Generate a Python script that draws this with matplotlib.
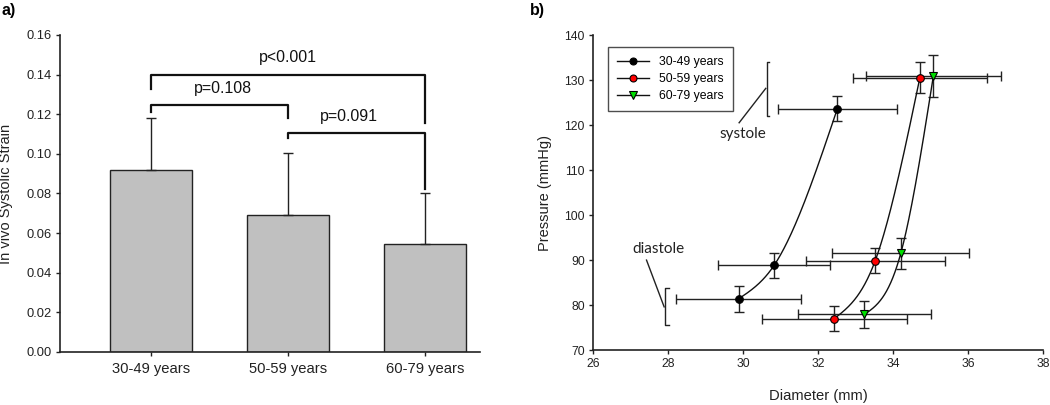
import numpy as np
import matplotlib
matplotlib.use("Agg")
import matplotlib.pyplot as plt
from matplotlib.lines import Line2D

plt.rcParams['font.family'] = ['Liberation Sans', 'DejaVu Sans']

# ---------------- data: panel a ----------------
groups = ["30-49 years", "50-59 years", "60-79 years"]
strain_mean = [0.0917, 0.0692, 0.0544]
strain_sd = [0.0263, 0.0311, 0.0260]

# comparisons: (left group, right group, label)
comparisons = [(0, 2, "p<0.001"), (0, 1, "p=0.108"), (1, 2, "p=0.091")]

# ---------------- data: panel b ----------------
series_labels = ["30-49 years", "50-59 years", "60-79 years"]
diam_30_49 = [29.88, 30.82, 32.51]
diam_sd_30_49 = [1.67, 1.50, 1.58]
pres_30_49 = [81.4, 88.8, 123.7]
pres_sd_30_49 = [2.9, 2.7, 2.7]

diam_50_59 = [32.43, 33.52, 34.71]
diam_sd_50_59 = [1.93, 1.85, 1.78]
pres_50_59 = [77.0, 89.9, 130.6]
pres_sd_50_59 = [2.8, 2.7, 3.4]

diam_60_79 = [33.23, 34.20, 35.07]
diam_sd_60_79 = [1.78, 1.83, 1.80]
pres_60_79 = [77.9, 91.5, 131.0]
pres_sd_60_79 = [3.0, 3.5, 4.7]

x_ticks_b = [26, 28, 30, 32, 34, 36, 38]
y_ticks_b = [70, 80, 90, 100, 110, 120, 130, 140]
y_ticks_a = [0.00, 0.02, 0.04, 0.06, 0.08, 0.10, 0.12, 0.14, 0.16]


def natural_spline(x, y, n=200):
    x = np.asarray(x, float)
    y = np.asarray(y, float)
    k = len(x)
    h = np.diff(x)
    A = np.zeros((k, k))
    r = np.zeros(k)
    A[0, 0] = 1
    A[-1, -1] = 1
    for i in range(1, k - 1):
        A[i, i - 1] = h[i - 1]
        A[i, i] = 2 * (h[i - 1] + h[i])
        A[i, i + 1] = h[i]
        r[i] = 6 * ((y[i + 1] - y[i]) / h[i] - (y[i] - y[i - 1]) / h[i - 1])
    M = np.linalg.solve(A, r)
    xs = np.linspace(x[0], x[-1], n)
    ys = np.empty_like(xs)
    for j, xv in enumerate(xs):
        i = min(np.searchsorted(x, xv, side='right') - 1, k - 2)
        i = max(i, 0)
        t1 = x[i + 1] - xv
        t0 = xv - x[i]
        ys[j] = (M[i] * t1 ** 3 / (6 * h[i]) + M[i + 1] * t0 ** 3 / (6 * h[i])
                 + (y[i] / h[i] - M[i] * h[i] / 6) * t1
                 + (y[i + 1] / h[i] - M[i + 1] * h[i] / 6) * t0)
    return xs, ys


fig = plt.figure(figsize=(10.5, 4.05), dpi=100)
ink = '#222222'

# ================= panel a =================
ax1 = fig.add_axes([0.0571, 0.1309, 0.4, 0.7827])
xpos = np.arange(len(groups))
ax1.bar(xpos, strain_mean, width=0.6, color='#c0c0c0', edgecolor=ink, linewidth=1.0, zorder=2)
ax1.errorbar(xpos, strain_mean, yerr=[np.zeros(3), strain_sd], fmt='none',
             ecolor=ink, elinewidth=1.0, capsize=3.5, capthick=1.0, zorder=3)
ax1.set_xlim(-0.664, 2.40)
ax1.set_ylim(0, 0.16)
ax1.set_yticks(y_ticks_a)
ax1.set_yticklabels([f"{v:.2f}" for v in y_ticks_a], fontsize=9.3)
ax1.set_xticks(xpos)
ax1.set_xticklabels(groups, fontsize=10.6)
ax1.tick_params(axis='y', direction='out', length=3, width=1, colors=ink, pad=3)
ax1.tick_params(axis='x', direction='out', length=3, width=1, colors=ink, pad=4)
for s in ['top', 'right']:
    ax1.spines[s].set_visible(False)
for s in ['left', 'bottom']:
    ax1.spines[s].set_color(ink)
    ax1.spines[s].set_linewidth(1.2)
ax1.set_ylabel("In vivo Systolic Strain", fontsize=10.5, color=ink)
ax1.yaxis.set_label_coords(-0.111, 0.5)

# significance brackets (bar height, left leg end, right leg end, text height, text x)
bracket_geom = {
    (0, 2): (0.1397, 0.1326, 0.1154, 0.1450, 1.0),
    (0, 1): (0.1245, 0.1210, 0.1180, 0.1290, 0.525),
    (1, 2): (0.1107, 0.1080, 0.0823, 0.1150, 1.445),
}
for l, r, lab in comparisons:
    hbar, ll, rl, ty, tx = bracket_geom[(l, r)]
    ax1.plot([xpos[l], xpos[l], xpos[r], xpos[r]], [ll, hbar, hbar, rl],
             color='#111111', lw=1.6, solid_joinstyle='round', zorder=4, clip_on=False)
    ax1.text(tx, ty, lab, ha='center', va='bottom', fontsize=11.4, color='#111111')

fig.text(0.001, 1 - 11 / 405, "a)", fontsize=11.5, fontweight='bold', va='center', ha='left')

# ================= panel b =================
ax2 = fig.add_axes([0.565, 0.1358, 0.4286, 0.777])
series = [
    (diam_30_49, diam_sd_30_49, pres_30_49, pres_sd_30_49, 'o', 'black'),
    (diam_50_59, diam_sd_50_59, pres_50_59, pres_sd_50_59, 'o', '#ff0000'),
    (diam_60_79, diam_sd_60_79, pres_60_79, pres_sd_60_79, 'v', '#00e000'),
]
handles = []
for (dx, dxs, py, pys, mk, col), lab in zip(series, series_labels):
    ax2.errorbar(dx, py, xerr=dxs, yerr=pys, fmt='none', ecolor=ink, elinewidth=1.0,
                 capsize=3.5, capthick=1.0, zorder=2)
    xs, ys = natural_spline(dx, py)
    ax2.plot(xs, ys, color='#111111', lw=1.0, zorder=3)
    ax2.plot(dx, py, linestyle='none', marker=mk, markersize=5.5 if mk == 'o' else 6,
             markerfacecolor=col, markeredgecolor='black', markeredgewidth=0.8, zorder=4)
    handles.append(Line2D([0], [0], color='#111111', lw=1.0, marker=mk,
                          markersize=5 if mk == 'o' else 5.5, markerfacecolor=col,
                          markeredgecolor='black', markeredgewidth=0.8, label=lab))

leg = ax2.legend(handles=handles, loc='upper left', bbox_to_anchor=(0.033, 0.963),
                 borderaxespad=0, fontsize=8.8, frameon=True, fancybox=False,
                 edgecolor=ink, handlelength=2.6, handletextpad=0.8,
                 borderpad=0.75, labelspacing=0.4)
leg.get_frame().set_linewidth(1.0)

ax2.set_xlim(26, 38)
ax2.set_ylim(70, 140)
ax2.set_xticks(x_ticks_b)
ax2.set_yticks(y_ticks_b)
ax2.tick_params(axis='both', direction='out', length=3, width=1, colors=ink, labelsize=8.7, pad=3)
for s in ['top', 'right']:
    ax2.spines[s].set_visible(False)
for s in ['left', 'bottom']:
    ax2.spines[s].set_color(ink)
    ax2.spines[s].set_linewidth(1.2)
ax2.set_xlabel("Diameter (mm)", fontsize=10.6, color=ink)
ax2.xaxis.set_label_coords(0.5, -0.124)
ax2.set_ylabel("Pressure (mmHg)", fontsize=10.5, color=ink)
ax2.yaxis.set_label_coords(-0.092, 0.5)

# annotations: systole / diastole brackets
ann_font = ['Lato', 'DejaVu Sans']
ax2.plot([30.685, 30.62, 30.62, 30.685], [134.0, 134.0, 122.1, 122.1], color=ink, lw=1.0)
ax2.plot([29.89, 30.60], [120.55, 128.2], color=ink, lw=1.0)
ax2.text(29.99, 118.0, "systole", ha='center', va='center', fontsize=11, family=ann_font, color=ink)

ax2.plot([28.03, 27.92, 27.92, 28.03], [83.85, 83.85, 75.55, 75.55], color=ink, lw=1.0)
ax2.plot([27.42, 27.89], [90.0, 79.6], color=ink, lw=1.0)
ax2.text(27.73, 92.4, "diastole", ha='center', va='center', fontsize=11, family=ann_font, color=ink)

fig.text(530 / 1050, 1 - 11 / 405, "b)", fontsize=11.5, fontweight='bold', va='center', ha='left')

fig.savefig("out.png", dpi=100)
